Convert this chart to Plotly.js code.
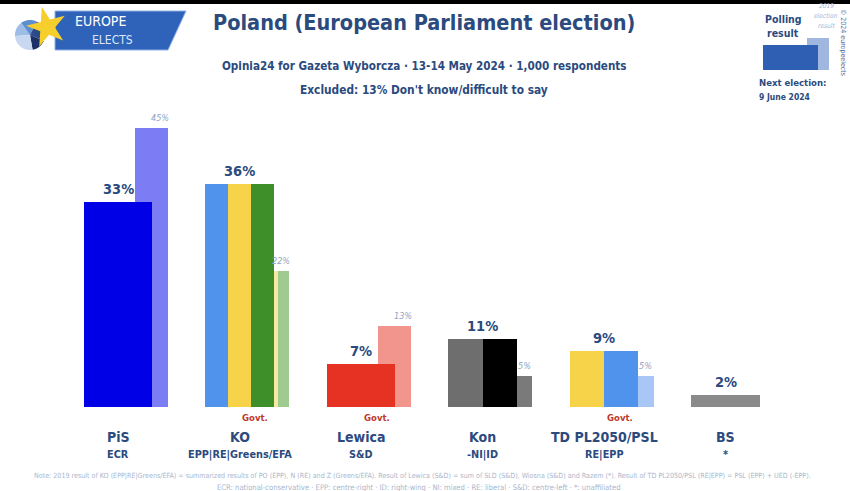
<!DOCTYPE html>
<html><head><meta charset="utf-8">
<script src="https://cdn.plot.ly/plotly-3.0.1.min.js"></script>
<style>html,body{margin:0;padding:0;background:#fff}#chart{width:850px;height:491px}</style>
</head><body><div id="chart"></div>
<script>
// ---- data ----
const parties = ['PiS', 'KO', 'Lewica', 'Kon', 'TD PL2050/PSL', 'BS'];
const groups = ['ECR', 'EPP|RE|Greens/EFA', 'S&D', '-NI|ID', 'RE|EPP', '*'];
const polling = [33, 36, 7, 11, 9, 2];
const result2019 = [45, 22, 13, 5, 5, null];
const govt = [false, true, true, false, true, false];
const pollColors = [['#0000e6'], ['#4f93ec', '#f6d349', '#3e8e2a'], ['#e63222'], ['#6e6e6e', '#000000'], ['#f6d349', '#4f93ec'], ['#8a8a8a']];
const colors2019 = [['#7c7cf4'], ['#a7c6f3', '#f6eaa3', '#9fca90'], ['#f2958c'], ['#7a7a7a'], ['#f6eaa3', '#a9c7f6'], ['#c0c0c0']];

const FONT = '"DejaVu Sans Condensed", "DejaVu Sans", sans-serif';
const DARK = '#2b4a7e';
const W = 850, H = 491, BASE = 407;
const px = (x, y) => ({x: x / W, y: (BASE - y) / BASE});

// bar geometry (in category units)
const PW = 0.56, OFF19 = 0.14, W19 = 0.27;
const traces = [];
parties.forEach((p, i) => {
  if (result2019[i] == null) return;
  const cols = colors2019[i];
  const n = cols.length, sw = W19 / n;
  cols.forEach((c, k) => {
    traces.push({type: 'bar', x: [i], y: [result2019[i]], offset: OFF19 + k * sw, width: sw,
      marker: {color: c, line: {width: 0}}, hoverinfo: 'skip', showlegend: false});
  });
});
parties.forEach((p, i) => {
  const cols = pollColors[i];
  const n = cols.length, sw = PW / n;
  cols.forEach((c, k) => {
    traces.push({type: 'bar', x: [i], y: [polling[i]], offset: -PW / 2 + k * sw, width: sw,
      marker: {color: c, line: {width: 0}}, hoverinfo: 'skip', showlegend: false});
  });
});

const ann = [];
parties.forEach((p, i) => {
  ann.push({xref: 'x', yref: 'y', x: i, y: polling[i], yanchor: 'bottom', yshift: 3, showarrow: false,
    text: '<b>' + polling[i] + '%</b>', font: {family: FONT, size: 14.5, color: DARK}});
  if (result2019[i] != null) {
    ann.push({xref: 'x', yref: 'y', x: i + (PW / 2 + OFF19 + W19) / 2, y: result2019[i], yanchor: 'bottom', yshift: 3, showarrow: false,
      text: '<i>' + result2019[i] + '%</i>', font: {family: FONT, size: 9, color: '#8fa2c4'}});
  }
  if (govt[i]) {
    ann.push({xref: 'x', yref: 'paper', x: i + 0.13, y: 0, yanchor: 'top', yshift: -3, showarrow: false,
      text: '<b>Govt.</b>', font: {family: FONT, size: 9.5, color: '#c0392b'}});
  }
  ann.push({xref: 'x', yref: 'paper', x: i, y: 0, yanchor: 'middle', yshift: -30, showarrow: false,
    text: '<b>' + p + '</b>', font: {family: FONT, size: 14, color: DARK}});
  ann.push({xref: 'x', yref: 'paper', x: i, y: 0, yanchor: 'middle', yshift: -47, showarrow: false,
    text: '<b>' + groups[i].replace('&', '&amp;') + '</b>', font: {family: FONT, size: 10.8, color: DARK}});
});

function txt(x, y, text, size, color, extra) {
  const p = px(x, y);
  return Object.assign({xref: 'paper', yref: 'paper', x: p.x, y: p.y, xanchor: 'center', yanchor: 'middle',
    showarrow: false, text: text, font: {family: FONT, size: size, color: color}}, extra || {});
}
ann.push(txt(424, 22, '<b>Poland (European Parliament election)</b>', 21.5, DARK));
ann.push(txt(424, 66, '<b>Opinia24 for Gazeta Wyborcza · 13-14 May 2024 · 1,000 respondents</b>', 11.6, DARK));
ann.push(txt(424, 90, '<b>Excluded: 13% Don\'t know/difficult to say</b>', 11.8, DARK));
// logo text
ann.push(txt(100, 21, 'EUROPE', 14, '#ffffff'));
ann.push(txt(112, 40, 'ELECTS', 12, '#dce6f7'));
// legend
ann.push(txt(783, 19, '<b>Polling</b>', 10.5, DARK));
ann.push(txt(783, 33, '<b>result</b>', 10.5, DARK));
ann.push(txt(826, 6, '<i>2019</i>', 6.5, '#9fb3d6'));
ann.push(txt(826, 16, '<i>election</i>', 6.5, '#9fb3d6'));
ann.push(txt(826, 26, '<i>result</i>', 6.5, '#9fb3d6'));
ann.push(txt(757, 83, '<b>Next election:</b>', 9.5, DARK, {xanchor: 'left'}));
ann.push(txt(757, 97, '<b>9 June 2024</b>', 8.5, DARK, {xanchor: 'left'}));
ann.push(txt(843, 42, '© 2024 europeelects', 7, '#4f6fa8', {textangle: 90}));
// footnotes
ann.push(txt(422, 476, 'Note: 2019 result of KO (EPP|RE|Greens/EFA) = summarized results of PO (EPP), N (RE) and Z (Greens/EFA). Result of Lewica (S&amp;D) = sum of SLD (S&amp;D), Wiosna (S&amp;D) and Razem (*). Result of TD PL2050/PSL (RE|EPP) = PSL (EPP) + UED (-EPP).', 7.1, '#a9b6cc'));
ann.push(txt(418, 487, 'ECR: national-conservative · EPP: centre-right · ID: right-wing · NI: mixed · RE: liberal · S&amp;D: centre-left · *: unaffiliated', 7.6, '#a9b6cc'));

function P(pts) {
  return 'M' + pts.map(q => { const p = px(q[0], q[1]); return p.x + ',' + p.y; }).join('L') + 'Z';
}
function starPts(cx, cy, R, r) {
  const pts = [];
  for (let k = 0; k < 10; k++) {
    const a = -Math.PI / 2 + k * Math.PI / 5 - 0.25;
    const rr = k % 2 ? r : R;
    pts.push([cx + rr * Math.cos(a), cy + rr * Math.sin(a)]);
  }
  return pts;
}
function wedge(cx, cy, R, a0, a1) {
  const pts = [[cx, cy]];
  for (let k = 0; k <= 12; k++) { const a = a0 + (a1 - a0) * k / 12; pts.push([cx + R * Math.cos(a), cy + R * Math.sin(a)]); }
  return pts;
}
const shapes = [];
shapes.push({type: 'rect', xref: 'paper', yref: 'paper', x0: 0, x1: 1, y0: px(0, 0).y, y1: px(0, 4).y, fillcolor: '#000', line: {width: 0}, layer: 'above'});
// logo
shapes.push({type: 'path', xref: 'paper', yref: 'paper', path: P([[55, 11], [186, 11], [168, 50], [55, 50]]), fillcolor: '#2f63b9', line: {color: '#8fb0e6', width: 1}});
const wc = ['#9dbce6', '#5d8fd0', '#2a4a8a', '#1c2f66', '#c8d8f0'];
const wa = [-3.2, -2.2, -1.1, 0.4, 1.4, 3.08];
for (let k = 0; k < 5; k++) shapes.push({type: 'path', xref: 'paper', yref: 'paper', path: P(wedge(30, 35, 15, wa[k], wa[k + 1])), fillcolor: wc[k], line: {width: 0}});
shapes.push({type: 'path', xref: 'paper', yref: 'paper', path: P(starPts(47, 27, 21, 8)), fillcolor: '#f7cf2c', line: {width: 0}});
// legend boxes
shapes.push({type: 'rect', xref: 'paper', yref: 'paper', x0: px(807, 0).x, x1: px(829, 0).x, y0: px(0, 70).y, y1: px(0, 38).y, fillcolor: '#9fb7de', line: {width: 0}});
shapes.push({type: 'rect', xref: 'paper', yref: 'paper', x0: px(763, 0).x, x1: px(818, 0).x, y0: px(0, 70).y, y1: px(0, 45).y, fillcolor: '#2f5fb3', line: {width: 0}});

const x0 = -118 / 121.5;
const layout = {
  width: W, height: H, margin: {l: 0, r: 0, t: 0, b: H - BASE},
  paper_bgcolor: '#ffffff', plot_bgcolor: '#ffffff',
  barmode: 'overlay', bargap: 0,
  xaxis: {range: [x0, x0 + W / 121.5], visible: false, fixedrange: true},
  yaxis: {range: [0, BASE / 6.2], visible: false, fixedrange: true},
  showlegend: false, annotations: ann, shapes: shapes
};
Plotly.newPlot('chart', traces, layout, {displayModeBar: false, staticPlot: true});
</script></body></html>
